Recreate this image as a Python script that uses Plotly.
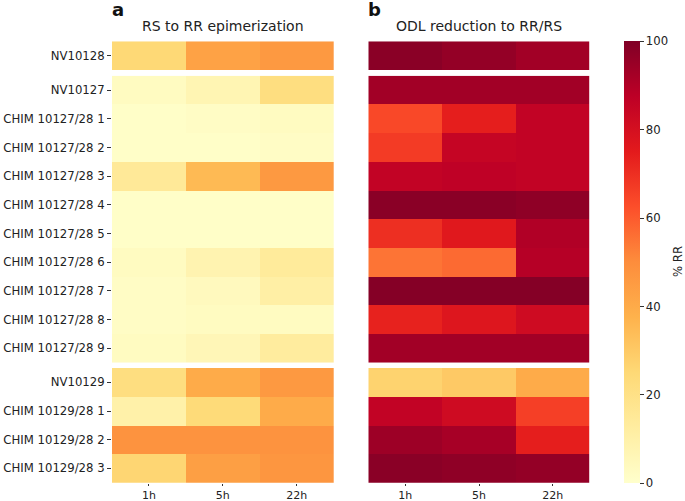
import plotly.graph_objects as go

times = ["1h", "5h", "22h"]

group1_labels = ["NV10128"]
group2_labels = ["NV10127", "CHIM 10127/28 1", "CHIM 10127/28 2", "CHIM 10127/28 3",
                 "CHIM 10127/28 4", "CHIM 10127/28 5", "CHIM 10127/28 6",
                 "CHIM 10127/28 7", "CHIM 10127/28 8", "CHIM 10127/28 9"]
group3_labels = ["NV10129", "CHIM 10129/28 1", "CHIM 10129/28 2", "CHIM 10129/28 3"]

# Panel a: RS to RR epimerization (% RR)
epi_g1 = [[25, 43, 46]]
epi_g2 = [[3, 7, 22],
          [1, 2, 3],
          [1, 1, 2],
          [15, 35, 46],
          [1, 1, 1],
          [1, 1, 1],
          [3, 8, 14],
          [2, 4, 11],
          [2, 3, 3],
          [3, 6, 13]]
epi_g3 = [[22, 40, 46],
          [10, 24, 40],
          [48, 48, 48],
          [26, 44, 47]]

# Panel b: ODL reduction to RR/RS (% RR)
odl_g1 = [[98, 96, 93]]
odl_g2 = [[93, 93, 93],
          [64, 74, 86],
          [67, 85, 86],
          [86, 87, 86],
          [98, 98, 97],
          [70, 76, 90],
          [55, 57, 89],
          [99, 99, 99],
          [73, 77, 82],
          [93, 93, 93]]
odl_g3 = [[27, 30, 40],
          [86, 82, 66],
          [94, 92, 74],
          [98, 97, 96]]

ylorrd = [[0.0, "#ffffcc"], [0.125, "#ffeda0"], [0.25, "#fed976"], [0.375, "#feb24c"],
          [0.5, "#fd8d3c"], [0.625, "#fc4e2a"], [0.75, "#e31a1c"], [0.875, "#bd0026"],
          [1.0, "#800026"]]

W, H = 685, 501
def px_x(a, b):
    return [a / W, b / W]
def px_y(top, bottom):
    return [1 - bottom / H, 1 - top / H]

xdomains = [px_x(112, 333.7), px_x(368.3, 589.7)]
ydomains = [px_y(41.3, 70), px_y(75.7, 362.7), px_y(368, 482.7)]

fig = go.Figure()
panels = [(epi_g1, epi_g2, epi_g3), (odl_g1, odl_g2, odl_g3)]
labels = [group1_labels, group2_labels, group3_labels]
font = "DejaVu Sans"
tfs = 11.7

idx = 0
layout_axes = {}
for c, groups in enumerate(panels):
    for r, z in enumerate(groups):
        idx += 1
        xa = "x" if idx == 1 else f"x{idx}"
        ya = "y" if idx == 1 else f"y{idx}"
        fig.add_trace(go.Heatmap(
            z=z, x=times, y=labels[r], coloraxis="coloraxis",
            xaxis=xa, yaxis=ya, xgap=0, ygap=0,
        ))
        xkey = "xaxis" if idx == 1 else f"xaxis{idx}"
        ykey = "yaxis" if idx == 1 else f"yaxis{idx}"
        last = (r == 2)
        layout_axes[xkey] = dict(
            domain=xdomains[c], anchor=ya, showgrid=False, zeroline=False,
            showticklabels=last, ticks="outside" if last else "", ticklen=2,
            tickcolor="#333", tickfont=dict(size=11, color="#222", family=font),
            type="category", showline=False, automargin=False,
        )
        layout_axes[ykey] = dict(
            domain=ydomains[r], anchor=xa, showgrid=False, zeroline=False,
            autorange="reversed", type="category",
            showticklabels=(c == 0), ticks="outside" if c == 0 else "", ticklen=4,
            tickcolor="#333", tickfont=dict(size=tfs, color="#222", family=font),
            showline=False, automargin=False,
        )

fig.update_layout(**layout_axes)
fig.update_layout(
    width=W, height=H,
    margin=dict(l=0, r=0, t=0, b=0, autoexpand=False),
    paper_bgcolor="white", plot_bgcolor="white",
    font=dict(family=font, size=12, color="#222"),
    coloraxis=dict(
        colorscale=ylorrd, cmin=0, cmax=100,
        colorbar=dict(
            x=624 / W, xanchor="left", thickness=16, thicknessmode="pixels",
            len=(483 - 41.5) / H, lenmode="fraction",
            y=1 - 262.25 / H, yanchor="middle",
            outlinewidth=0, ticks="outside", ticklen=4, tickcolor="#333",
            tickvals=[0, 20, 40, 60, 80, 100],
            tickfont=dict(size=tfs, color="#222", family=font),
            xpad=0, ypad=0,
        ),
    ),
    annotations=[
        dict(text="<b>a</b>", x=110 / W, y=1 - 9 / H, xref="paper", yref="paper",
             xanchor="left", yanchor="middle", showarrow=False,
             font=dict(size=18, color="#111", family=font)),
        dict(text="<b>b</b>", x=366 / W, y=1 - 9 / H, xref="paper", yref="paper",
             xanchor="left", yanchor="middle", showarrow=False,
             font=dict(size=18, color="#111", family=font)),
        dict(text="RS to RR epimerization", x=222.8 / W, y=1 - 26 / H, xref="paper", yref="paper",
             xanchor="center", yanchor="middle", showarrow=False,
             font=dict(size=14, color="#222", family=font)),
        dict(text="ODL reduction to RR/RS", x=479 / W, y=1 - 26 / H, xref="paper", yref="paper",
             xanchor="center", yanchor="middle", showarrow=False,
             font=dict(size=14, color="#222", family=font)),
        dict(text="% RR", x=678 / W, y=1 - 262 / H, xref="paper", yref="paper",
             xanchor="center", yanchor="middle", showarrow=False, textangle=-90,
             font=dict(size=tfs, color="#222", family=font)),
    ],
)

fig.write_html("out.html", config={"displayModeBar": False},
               post_script="document.body.style.margin='0';document.body.style.overflow='hidden';")
